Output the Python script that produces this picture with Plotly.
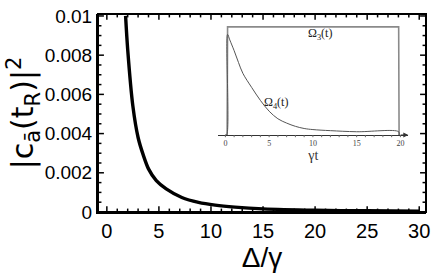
import plotly.graph_objects as go

# main curve |c_a(t_R)|^2 vs Delta/gamma
delta = [1.8, 2.0, 2.5, 3.0, 3.5, 4.0, 4.75, 5.7, 7.2, 8.8, 10.4, 12.3, 15.0, 20.0, 25.0, 30.0]
pop = [0.0100, 0.0083, 0.0054, 0.0038, 0.0029, 0.0022, 0.0016, 0.00118, 0.00074, 0.00049,
       0.00035, 0.00025, 0.00016, 0.00009, 0.00006, 0.00004]

# inset pulses
t3 = [0.0, 0.2, 0.25, 19.8, 19.85, 20.0]
om3 = [0.0, 0.0, 1.0, 1.0, 0.0, 0.0]
t4 = [0.0, 0.15, 0.25, 0.5, 1.0, 1.5, 2.0, 3.0, 4.0, 5.0, 6.0, 7.0, 8.0, 9.0, 10.0, 12.0, 15.0, 19.8, 19.85]
om4 = [0.0, 0.0, 0.93, 0.88, 0.78, 0.67, 0.57, 0.44, 0.32, 0.22, 0.15, 0.11, 0.08, 0.06,
       0.05, 0.04, 0.03, 0.03, 0.0]

xticks = [0, 5, 10, 15, 20, 25, 30]
yticks = [0, 0.002, 0.004, 0.006, 0.008, 0.01]
yticklabels = ["0", "0.002", "0.004", "0.006", "0.008", "0.01"]
inset_ticks = [0, 5, 10, 15, 20]

XR = [-0.85, 30.65]
YR = [0, 0.0101]

x_minor = [i for i in range(0, 31) if i not in xticks]
y_minor = [k * 0.0005 for k in range(0, 21) if k % 4 != 0]
inset_minor = [i for i in range(0, 21) if i not in inset_ticks]

fig = go.Figure()
fig.add_trace(go.Scatter(x=delta, y=pop, mode="lines",
                         line=dict(color="black", width=3.4, shape="spline", smoothing=0.8),
                         showlegend=False))
fig.add_trace(go.Scatter(x=t3, y=om3, mode="lines", line=dict(color="#8a8a8a", width=1.6),
                         xaxis="x2", yaxis="y2", showlegend=False))
fig.add_trace(go.Scatter(x=t4, y=om4, mode="lines", line=dict(color="#555555", width=1, shape="spline"),
                         xaxis="x2", yaxis="y2", showlegend=False))

font_main = "Liberation Sans, Arial, sans-serif"
font_title = "DejaVu Sans, Liberation Sans, sans-serif"
font_serif = "Liberation Serif, Times New Roman, serif"

# frame + tick marks (derived from the tick lists)
shapes = [dict(type="rect", xref="x domain", yref="y domain", x0=0, x1=1, y0=0, y1=1,
               line=dict(color="black", width=2), fillcolor="rgba(0,0,0,0)", layer="above")]
LX_MAJ, LX_MIN = 6 / 203, 3.5 / 203   # x-tick lengths as y-domain fraction
LY_MAJ, LY_MIN = 6 / 332, 3.5 / 332   # y-tick lengths as x-domain fraction
for v, L in [(v, LX_MAJ) for v in xticks] + [(v, LX_MIN) for v in x_minor]:
    for y0, y1 in [(0, L), (1, 1 - L)]:
        shapes.append(dict(type="line", xref="x", yref="y domain", x0=v, x1=v, y0=y0, y1=y1,
                           line=dict(color="black", width=1.5), layer="above"))
for v, L in [(v, LY_MAJ) for v in yticks] + [(v, LY_MIN) for v in y_minor]:
    for x0, x1 in [(0, L), (1, 1 - L)]:
        shapes.append(dict(type="line", xref="x domain", yref="y", x0=x0, x1=x1, y0=v, y1=v,
                           line=dict(color="black", width=1.5), layer="above"))
for v in inset_ticks + inset_minor:
    shapes.append(dict(type="line", xref="x2", yref="y2 domain", x0=v, x1=v, y0=0, y1=-0.02,
                       line=dict(color="#666", width=1), layer="above"))

fig.update_layout(
    width=436, height=274,
    margin=dict(l=98, r=6, t=9, b=62),
    paper_bgcolor="white", plot_bgcolor="rgba(0,0,0,0)",
    xaxis=dict(range=XR, tickmode="array", tickvals=xticks, ticks="", showline=True,
               linecolor="black", linewidth=2, showgrid=False, zeroline=False,
               tickfont=dict(family=font_main, size=20, color="black"),
               title=dict(text="Δ/γ", font=dict(family=font_main, size=28, color="black"), standoff=0)),
    yaxis=dict(range=YR, tickmode="array", tickvals=yticks, ticktext=yticklabels, ticks="",
               showline=True, linecolor="black", linewidth=2, showgrid=False, zeroline=False,
               tickfont=dict(family=font_main, size=19, color="black"),
               title=dict(text="|c<sub>ā</sub>(t<sub>R</sub>)|<sup>2</sup>",
                          font=dict(family=font_title, size=30, color="black"), standoff=0)),
    xaxis2=dict(domain=[0.367, 0.946], anchor="y2", range=[-0.8, 20.9], tickvals=inset_ticks,
                ticks="", showline=True, linecolor="#333", linewidth=1, showgrid=False,
                zeroline=False, tickfont=dict(family=font_serif, size=8, color="#444"),
                title=dict(text="γt", font=dict(family=font_serif, size=14, color="#333"), standoff=0)),
    yaxis2=dict(domain=[0.389, 0.946], anchor="x2", range=[0, 1.02], visible=False),
    shapes=shapes,
    annotations=[
        dict(x=10.8, y=0.93, xref="x2", yref="y2", text="Ω<sub>3</sub>(t)", showarrow=False,
             font=dict(family=font_serif, size=12, color="#222")),
        dict(x=5.75, y=0.3, xref="x2", yref="y2", text="Ω<sub>4</sub>(t)", showarrow=False,
             font=dict(family=font_serif, size=12, color="#222")),
        dict(x=20.9, y=0, xref="x2", yref="y2", ax=19.9, ay=0, axref="x2", ayref="y2", text="",
             showarrow=True, arrowhead=2, arrowsize=1, arrowwidth=1, arrowcolor="#333"),
    ],
)

fig.write_html("out.html", config={"displayModeBar": False},
               post_script="document.body.style.margin='0';document.body.style.overflow='hidden';")
